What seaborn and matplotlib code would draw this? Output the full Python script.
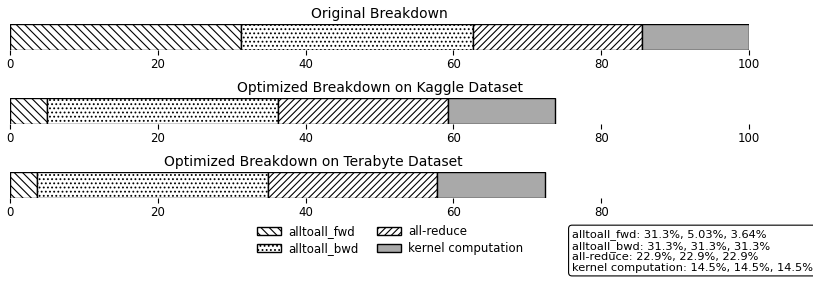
import numpy as np
import matplotlib
matplotlib.use("Agg")
from matplotlib import pyplot as plt
import seaborn as sns

# data
components = ['alltoall_fwd', 'alltoall_bwd', 'all-reduce', 'kernel computation']
original = [31.3, 31.3, 22.9, 14.5]
kaggle = [5.03, 31.3, 22.9, 14.5]
terabyte = [3.64, 31.3, 22.9, 14.5]
titles = ['Original Breakdown', 'Optimized Breakdown on Kaggle Dataset',
          'Optimized Breakdown on Terabyte Dataset']

hatches = ['\\\\\\\\', '....', '/////', '']
colors = ['white', 'white', 'white', '#a9a9a9']

sns.set_style('white')
plt.rcParams['font.family'] = ['DejaVu Sans']
plt.rcParams['hatch.linewidth'] = 0.8
plt.rcParams['text.color'] = 'black'
plt.rcParams['xtick.color'] = 'black'
plt.rcParams['axes.titlecolor'] = 'black'

fig = plt.figure(figsize=(8.13, 2.84), dpi=100)

W, H = 813.0, 284.0
px = 739.0 / 100  # pixels per unit
# (bottom px of bar, xmax, ticks)
layout = [(50, 100, [0, 20, 40, 60, 80, 100]),
          (124, 100, [0, 20, 40, 60, 80, 100]),
          (198, 82, [0, 20, 40, 60, 80])]

for (ybot, xmax, ticks), vals, title in zip(layout, [original, kaggle, terabyte], titles):
    ax = fig.add_axes([10 / W, 1 - ybot / H, xmax * px / W, 26 / H])
    left = 0
    for v, h, c in zip(vals, hatches, colors):
        ax.barh(0, v, left=left, height=1, color=c, hatch=h, edgecolor='black', linewidth=1)
        left += v
    ax.set_xlim(0, xmax)
    ax.set_ylim(-0.5, 0.5)
    ax.set_yticks([])
    ax.set_xticks(ticks)
    ax.tick_params(axis='x', length=3.5, width=0.8, labelsize=8.5, pad=2, bottom=True)
    ax.set_title(title, fontsize=10, pad=4)
    sns.despine(ax=ax, left=True, bottom=True)

handles = [plt.Rectangle((0, 0), 1, 1, facecolor=c, hatch=h, edgecolor='black', linewidth=1)
           for h, c in zip(hatches, colors)]
fig.legend(handles, components, ncol=2, loc='center', bbox_to_anchor=(390 / W, 1 - 240 / H),
           frameon=False, fontsize=8.5, handlelength=2.0, handleheight=0.7,
           columnspacing=1.6, labelspacing=0.3, handletextpad=0.6)

lines = []
for i, name in enumerate(components):
    lines.append('%s: %.3g%%, %.3g%%, %.3g%%' % (name, original[i], kaggle[i], terabyte[i]))
fig.text(572 / W, 1 - 251 / H, '\n'.join(lines), fontsize=8.2, va='center', ha='left',
         linespacing=1.05,
         bbox=dict(boxstyle='round,pad=0.3', facecolor='white', edgecolor='black', linewidth=0.8))

fig.savefig('out.png', dpi=100)
